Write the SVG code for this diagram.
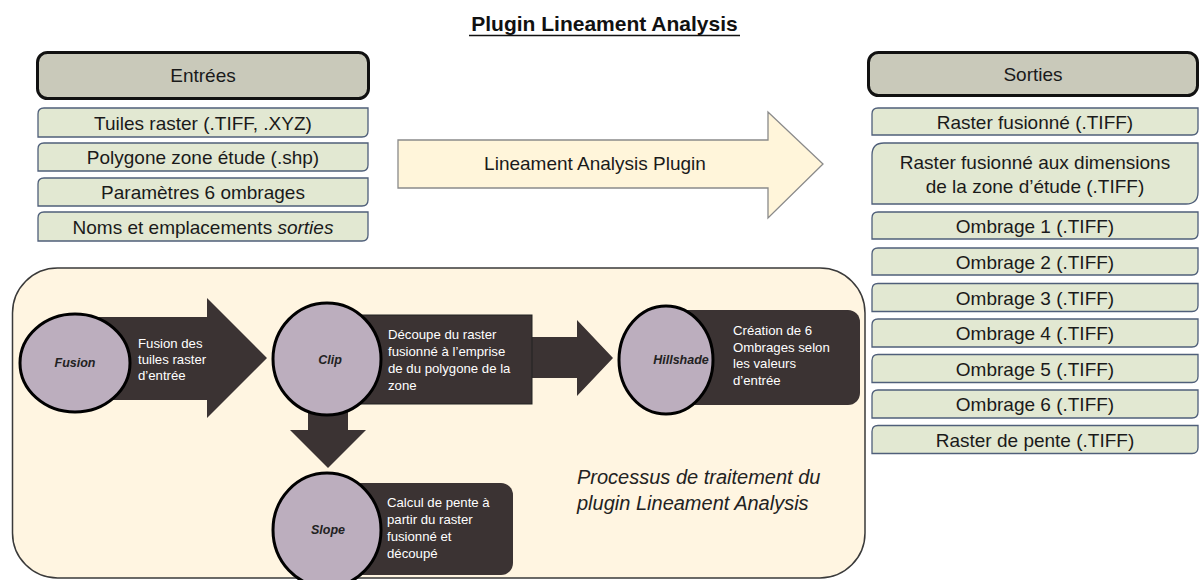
<svg xmlns="http://www.w3.org/2000/svg" width="1200" height="580" viewBox="0 0 1200 580">
<style>
text{font-family:"Liberation Sans",Arial,sans-serif}
.hdr{fill:#c9c9ba;stroke:#111;stroke-width:3}
.row{fill:#e2e8d2;stroke:#4f5f7a;stroke-width:1.3}
.t{font-size:19px;fill:#1a1a1a;text-anchor:middle}
.dark{fill:#3b3333}
.circ{fill:#bcaebe;stroke:#000;stroke-width:3}
.lbl{font-size:12.5px;font-weight:bold;font-style:italic;fill:#222;text-anchor:middle}
.w{font-size:13.2px;fill:#fff}
</style>
<rect width="1200" height="580" fill="#fff"/>
<g id="title">
<text x="604.5" y="31" font-size="21" font-weight="bold" fill="#111" text-anchor="middle">Plugin Lineament Analysis</text>
<line x1="469" y1="35.5" x2="740" y2="35.5" stroke="#111" stroke-width="1.6"/>
</g>
<g id="panel">
<rect x="12.5" y="268" width="852.5" height="310" rx="45" fill="#fff5e1" stroke="#3a3a3a" stroke-width="1.5"/>
<text x="577" y="484" font-size="20" font-style="italic" fill="#222">Processus de traitement du</text>
<text x="577" y="510" font-size="20" font-style="italic" fill="#222">plugin Lineament Analysis</text>
</g>
<g id="connectors">
<g id="arrow-main">
<path d="M398,140 H768 V112 L823,164 L768,218 V188 H398 Z" fill="#fff5da" stroke="#8a8a8a" stroke-width="1.3"/>
<text class="t" x="595" y="170" font-size="20">Lineament Analysis Plugin</text>
</g>
<path id="arrow-fusion-clip" class="dark" d="M75,317 H207 V298 L267,358 L207,418 V400 H75 Z"/>
<path id="arrow-clip-hillshade" class="dark" d="M520,337 H577 V320 L613,358 L577,396 V378 H520 Z"/>
<path id="arrow-clip-slope" class="dark" d="M308,400 H348 V430 H366 L328,468 L290,430 H308 Z"/>
</g>
<g id="entrees">
<rect class="hdr" x="37.5" y="52.5" width="331" height="46" rx="10"/>
<text class="t" x="203" y="82" font-size="19.5">Entrées</text>
</g>
<g id="in-1">
<path class="row" d="M44,108 H368 V131 Q368,137 362,137 H38 V114 Q38,108 44,108 Z"/>
<text class="t" x="203" y="129.5">Tuiles raster (.TIFF, .XYZ)</text>
</g>
<g id="in-2">
<path class="row" d="M44,143 H368 V165 Q368,171 362,171 H38 V149 Q38,143 44,143 Z"/>
<text class="t" x="203" y="164">Polygone zone étude (.shp)</text>
</g>
<g id="in-3">
<path class="row" d="M44,178 H368 V200 Q368,206 362,206 H38 V184 Q38,178 44,178 Z"/>
<text class="t" x="203" y="199">Paramètres 6 ombrages</text>
</g>
<g id="in-4">
<path class="row" d="M44,212 H368 V235 Q368,241 362,241 H38 V218 Q38,212 44,212 Z"/>
<text class="t" x="203" y="233.5">Noms et emplacements <tspan font-style="italic">sorties</tspan></text>
</g>
<g id="sorties">
<rect class="hdr" x="868.5" y="52.5" width="329" height="43" rx="10"/>
<text class="t" x="1033" y="81" font-size="19.5">Sorties</text>
</g>
<g id="out-1">
<path class="row" d="M878,108 H1198 V129 Q1198,135 1192,135 H872 V114 Q872,108 878,108 Z"/>
<text class="t" x="1035" y="128.5">Raster fusionné (.TIFF)</text>
</g>
<g id="out-2">
<path class="row" d="M884,143 H1198 V192 Q1198,204 1186,204 H872 V155 Q872,143 884,143 Z"/>
<text class="t" x="1035" y="169">Raster fusionné aux dimensions</text>
<text class="t" x="1035" y="193">de la zone d’étude (.TIFF)</text>
</g>
<g id="out-3">
<path class="row" d="M878,212 H1198 V233 Q1198,239 1192,239 H872 V218 Q872,212 878,212 Z"/>
<text class="t" x="1035" y="232.5">Ombrage 1 (.TIFF)</text>
</g>
<g id="out-4">
<path class="row" d="M878,248 H1198 V269 Q1198,275 1192,275 H872 V254 Q872,248 878,248 Z"/>
<text class="t" x="1035" y="268.5">Ombrage 2 (.TIFF)</text>
</g>
<g id="out-5">
<path class="row" d="M878,283.5 H1198 V305.5 Q1198,311.5 1192,311.5 H872 V289.5 Q872,283.5 878,283.5 Z"/>
<text class="t" x="1035" y="304.5">Ombrage 3 (.TIFF)</text>
</g>
<g id="out-6">
<path class="row" d="M878,319 H1198 V341 Q1198,347 1192,347 H872 V325 Q872,319 878,319 Z"/>
<text class="t" x="1035" y="340">Ombrage 4 (.TIFF)</text>
</g>
<g id="out-7">
<path class="row" d="M878,354.5 H1198 V376.5 Q1198,382.5 1192,382.5 H872 V360.5 Q872,354.5 878,354.5 Z"/>
<text class="t" x="1035" y="375.5">Ombrage 5 (.TIFF)</text>
</g>
<g id="out-8">
<path class="row" d="M878,390 H1198 V412 Q1198,418 1192,418 H872 V396 Q872,390 878,390 Z"/>
<text class="t" x="1035" y="411">Ombrage 6 (.TIFF)</text>
</g>
<g id="out-9">
<path class="row" d="M878,425.5 H1198 V447.5 Q1198,453.5 1192,453.5 H872 V431.5 Q872,425.5 878,425.5 Z"/>
<text class="t" x="1035" y="446.5">Raster de pente (.TIFF)</text>
</g>
<g id="fusion">
<ellipse class="circ" cx="75" cy="363" rx="55" ry="49"/>
<text class="lbl" x="75" y="367">Fusion</text>
<text class="w" x="138" y="348">Fusion des</text>
<text class="w" x="138" y="364">tuiles raster</text>
<text class="w" x="138" y="380">d’entrée</text>
</g>
<g id="clip">
<rect class="dark" x="327" y="315" width="205" height="89" stroke="#222" stroke-width="1"/>
<ellipse class="circ" cx="327" cy="359" rx="54" ry="56"/>
<text class="lbl" x="330" y="364">Clip</text>
<text class="w" x="388" y="339">Découpe du raster</text>
<text class="w" x="388" y="356">fusionné à l’emprise</text>
<text class="w" x="388" y="373">de du polygone de la</text>
<text class="w" x="388" y="390">zone</text>
</g>
<g id="hillshade">
<rect class="dark" x="666" y="310" width="194" height="95" rx="12"/>
<ellipse class="circ" cx="666" cy="360" rx="47" ry="54"/>
<text class="lbl" x="681" y="364">Hillshade</text>
<text class="w" x="733" y="335">Création de 6</text>
<text class="w" x="733" y="351.5">Ombrages selon</text>
<text class="w" x="733" y="368">les valeurs</text>
<text class="w" x="733" y="384.5">d’entrée</text>
</g>
<g id="slope">
<rect class="dark" x="327" y="483" width="186" height="92" rx="12"/>
<ellipse class="circ" cx="327" cy="530" rx="54" ry="57"/>
<text class="lbl" x="328" y="534">Slope</text>
<text class="w" x="387" y="507">Calcul de pente à</text>
<text class="w" x="387" y="524">partir du raster</text>
<text class="w" x="387" y="541">fusionné et</text>
<text class="w" x="387" y="558">découpé</text>
</g>
</svg>
